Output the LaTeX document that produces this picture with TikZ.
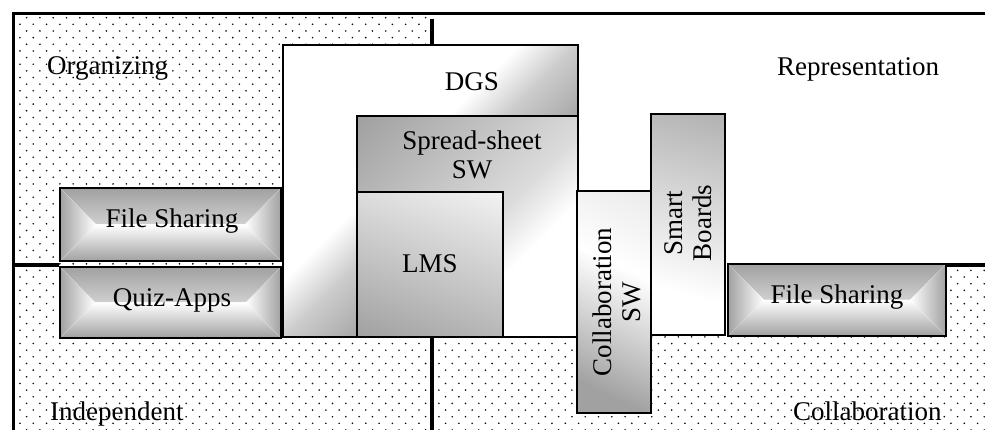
\documentclass[tikz,border=0pt]{standalone}
\usepackage{fontspec}
\setmainfont{Liberation Serif}
\usetikzlibrary{patterns}

% grey tones used by the gradients
\definecolor{rim}{gray}{0.63}
\definecolor{gdark}{gray}{0.60}
\definecolor{gmid}{gray}{0.70}
\definecolor{glight}{gray}{0.80}
\definecolor{gpale}{gray}{0.86}
\definecolor{gwhite}{gray}{0.95}
\definecolor{dotgray}{gray}{0.05}

% diagonal and tilted gradients for the large boxes
\pgfdeclareverticalshading{dgsshade}{100bp}{color(0bp)=(gdark); color(38bp)=(gdark); color(50bp)=(glight); color(57bp)=(white); color(100bp)=(white)}
\pgfdeclareverticalshading{sheetshade}{100bp}{color(0bp)=(white); color(36bp)=(white); color(47bp)=(gpale); color(85bp)=(rim); color(100bp)=(rim)}
\pgfdeclareverticalshading{lmsshade}{100bp}{color(0bp)=(rim); color(18bp)=(rim); color(82bp)=(gwhite); color(100bp)=(gwhite)}
\pgfdeclareverticalshading{collabshade}{100bp}{color(0bp)=(rim); color(25bp)=(rim); color(60bp)=(white); color(100bp)=(gpale)}
\pgfdeclareverticalshading{boardshade}{100bp}{color(0bp)=(white); color(32bp)=(white); color(80bp)=(gmid); color(100bp)=(gmid)}

% staggered dot raster for the shaded quadrants
\pgfdeclarepatternformonly{quadrantdots}{\pgfqpoint{-1pt}{-1pt}}{\pgfqpoint{12.3pt}{12.3pt}}{\pgfqpoint{13.3pt}{13.3pt}}{%
  \pgfpathcircle{\pgfqpoint{0pt}{0pt}}{0.9pt}%
  \pgfpathcircle{\pgfqpoint{6.65pt}{6.65pt}}{0.9pt}%
  \pgfusepath{fill}}

\tikzset{
  boxline/.style={draw=black, line width=2.5pt, rectangle, inner sep=0pt},
  frameline/.style={draw=black, line width=3pt, line join=miter},
  divline/.style={draw=black, line width=3.5pt},
  lbl/.style={font=\fontsize{27}{29}\selectfont, inner sep=0pt, align=center},
  dotfill/.style={pattern=quadrantdots, pattern color=dotgray},
  % gradient that runs from a grey rim to a white centre line
  rimshade/.style={fill=white, path picture={
    \fill[top color=rim, bottom color=white]
      (path picture bounding box.north west) -- (path picture bounding box.north east)
      -- ([xshift=-#1]path picture bounding box.east) -- ([xshift=#1]path picture bounding box.west) -- cycle;
    \fill[top color=white, bottom color=rim]
      (path picture bounding box.south west) -- (path picture bounding box.south east)
      -- ([xshift=-#1]path picture bounding box.east) -- ([xshift=#1]path picture bounding box.west) -- cycle;
    \fill[left color=rim, right color=white]
      (path picture bounding box.north west) -- ([xshift=#1]path picture bounding box.west)
      -- (path picture bounding box.south west) -- cycle;
    \fill[left color=white, right color=rim]
      (path picture bounding box.north east) -- ([xshift=-#1]path picture bounding box.east)
      -- (path picture bounding box.south east) -- cycle;
  }},
}

\begin{document}
\begin{tikzpicture}[x=1pt,y=-1pt]
\useasboundingbox (0,0) rectangle (985,430);

% dotted quadrants
\fill[dotfill] (13,14) rectangle (432,265);
\fill[dotfill] (13,265) rectangle (985,430);

% nested tool boxes
\node[boxline, shading=dgsshade, shading angle=45, minimum width=295pt, minimum height=292pt] (dgs) at (430.5,191) {};
\node[boxline, shading=sheetshade, shading angle=45, minimum width=221pt, minimum height=221pt] (sheet) at (467.5,226.5) {};
\node[boxline, shading=lmsshade, shading angle=-20, minimum width=146pt, minimum height=145pt] (lms) at (430,264.5) {};
\node[boxline, shading=boardshade, shading angle=-15, minimum width=74pt, minimum height=221pt] (boards) at (688,224.5) {};
\node[boxline, shading=collabshade, shading angle=-25, minimum width=74pt, minimum height=222pt] (collab) at (614,302) {};

% boxes with a rim gradient
\node[boxline, rimshade=36pt, minimum width=221pt, minimum height=73pt] (fsl) at (170.5,224.5) {};
\node[boxline, rimshade=35pt, minimum width=221pt, minimum height=71pt] (quiz) at (170.5,302.5) {};
\node[boxline, rimshade=36pt, minimum width=218pt, minimum height=72pt] (fsr) at (837,300) {};

% box labels
\node[lbl, anchor=base] (dgstext) at (472,91) {DGS};
\node[lbl] (sheettext) at (472,155) {Spread-sheet\\SW};
\node[lbl] (lmstext) at (430,264) {LMS};
\node[lbl, anchor=base] (fsltext) at (172,228) {File Sharing};
\node[lbl, anchor=base] (quiztext) at (172,306) {Quiz-Apps};
\node[lbl, anchor=base] (fsrtext) at (837,304) {File Sharing};
\node[lbl, rotate=90] (collabtext) at (616.5,302) {Collaboration\\SW};
\node[lbl, rotate=90] (boardstext) at (688.5,223) {Smart\\Boards};

% quadrant dividers
\coordinate (vtop) at (432,19);
\coordinate (vbot) at (432,430);
\coordinate (hleft) at (13,265);
\coordinate (hright) at (985,265);
\draw[divline] (vtop) -- (vtop |- dgs.north);
\draw[divline] (vbot) -- (vbot |- dgs.south);
\draw[divline] (hleft) -- (hleft -| fsl.west);
\draw[divline] (hright) -- (hright -| fsr.east);

% outer frame
\coordinate (ftr) at (985,14);
\coordinate (ftl) at (13,14);
\coordinate (fbl) at (13,430);
\draw[frameline] (ftr) -- (ftl) -- (fbl);

% quadrant names
\node[lbl, anchor=base west] (organizing) at (47,75) {Organizing};
\node[lbl, anchor=base west] (representation) at (777,76) {Representation};
\node[lbl, anchor=base west] (independent) at (50,420) {Independent};
\node[lbl, anchor=base west] (collaboration) at (793,420) {Collaboration};
\end{tikzpicture}
\end{document}
